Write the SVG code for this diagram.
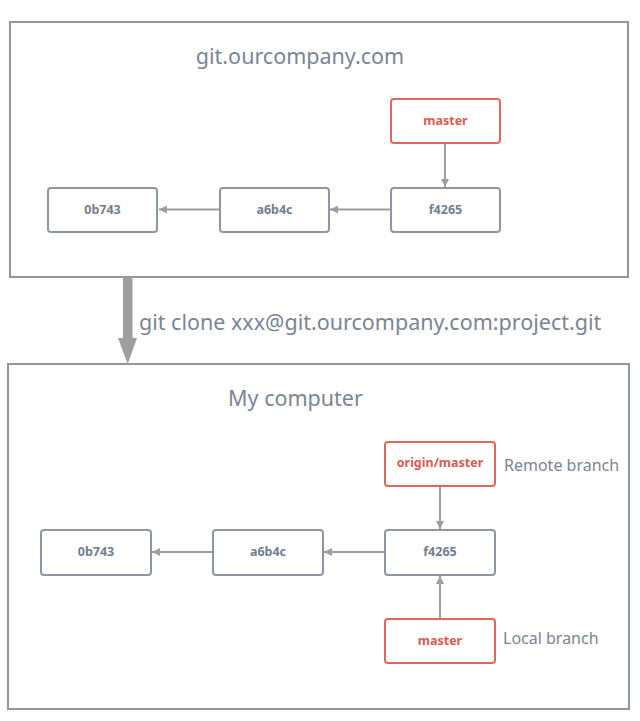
<svg xmlns="http://www.w3.org/2000/svg" width="640" height="721" viewBox="0 0 640 721">
<defs>
<style>
.frame{fill:#ffffff;stroke:#8e97a4;stroke-width:2}
.commit{fill:#ffffff;stroke:#8e97a4;stroke-width:2}
.branch{fill:#ffffff;stroke:#e0675c;stroke-width:2}
.ct{font-family:"Noto Sans","Open Sans",sans-serif;font-size:12.5px;font-weight:bold;fill:#757e8c;text-anchor:middle}
.bt{font-family:"Noto Sans","Open Sans",sans-serif;font-size:12.5px;font-weight:bold;fill:#dd5a4e;text-anchor:middle}
.title{font-family:"Noto Sans","Open Sans",sans-serif;font-size:21.5px;fill:#7b8594}
.lbl{font-family:"Noto Sans","Open Sans",sans-serif;font-size:16px;fill:#7b8594}
.conn{stroke:#9e9e9e;stroke-width:2;fill:none}
</style>
<marker id="ah" markerWidth="8" markerHeight="8" viewBox="0 0 10 10" refX="10" refY="5" orient="auto" markerUnits="userSpaceOnUse">
<path d="M0,0 L10,5 L0,10 Z" fill="#9e9e9e"/>
</marker>
</defs>
<rect width="640" height="721" fill="#ffffff"/>

<g id="remote-frame">
<rect class="frame" x="10" y="22" width="618" height="255"/>
<text class="title" x="300" y="64" text-anchor="middle">git.ourcompany.com</text>
</g>
<g id="local-frame">
<rect class="frame" x="8" y="364" width="621" height="345"/>
<text class="title" x="295.5" y="406" text-anchor="middle">My computer</text>
</g>

<g id="connectors">
<line class="conn" x1="219" y1="209.5" x2="159" y2="209.5" marker-end="url(#ah)"/>
<line class="conn" x1="390" y1="209.5" x2="330" y2="209.5" marker-end="url(#ah)"/>
<line class="conn" x1="445" y1="144" x2="445" y2="187" marker-end="url(#ah)"/>
<line class="conn" x1="212" y1="552" x2="152" y2="552" marker-end="url(#ah)"/>
<line class="conn" x1="384" y1="552" x2="324" y2="552" marker-end="url(#ah)"/>
<line class="conn" x1="440" y1="486" x2="440" y2="529" marker-end="url(#ah)"/>
<line class="conn" x1="440" y1="619" x2="440" y2="576" marker-end="url(#ah)"/>
<g id="clone-arrow">
<rect x="123" y="277" width="9.5" height="62" fill="#9e9e9e"/>
<path d="M118,338 L137,338 L127.7,364 Z" fill="#9e9e9e"/>
</g>
<text class="title" x="139" y="330">git clone xxx@git.ourcompany.com:project.git</text>
</g>

<g id="r-0b743"><rect class="commit" x="48" y="188" width="109" height="44" rx="3"/><text class="ct" x="102.5" y="214">0b743</text></g>
<g id="r-a6b4c"><rect class="commit" x="220" y="188" width="109" height="44" rx="3"/><text class="ct" x="274.5" y="214">a6b4c</text></g>
<g id="r-f4265"><rect class="commit" x="391" y="188" width="109" height="44" rx="3"/><text class="ct" x="445.5" y="214">f4265</text></g>
<g id="r-master"><rect class="branch" x="391" y="99" width="109" height="44" rx="3"/><text class="bt" x="445.5" y="125">master</text></g>

<g id="l-0b743"><rect class="commit" x="41" y="530" width="110" height="45" rx="3"/><text class="ct" x="96" y="556">0b743</text></g>
<g id="l-a6b4c"><rect class="commit" x="213" y="530" width="110" height="45" rx="3"/><text class="ct" x="268" y="556">a6b4c</text></g>
<g id="l-f4265"><rect class="commit" x="385" y="530" width="110" height="45" rx="3"/><text class="ct" x="440" y="556">f4265</text></g>
<g id="l-origin-master"><rect class="branch" x="385" y="442" width="110" height="44" rx="3"/><text class="bt" x="440" y="467">origin/master</text></g>
<g id="l-master"><rect class="branch" x="385" y="619" width="110" height="44" rx="3"/><text class="bt" x="440" y="645">master</text></g>
<text class="lbl" x="504" y="471">Remote branch</text>
<text class="lbl" x="503" y="644">Local branch</text>
</svg>
